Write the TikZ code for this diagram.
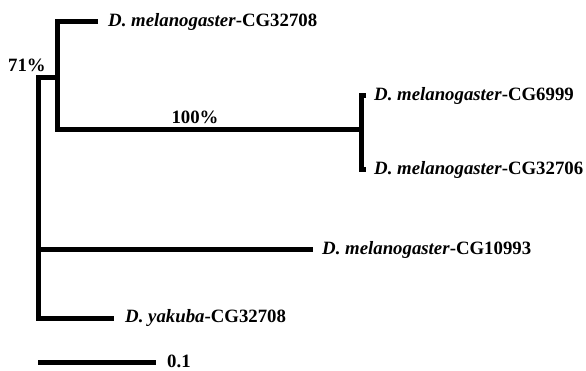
\documentclass[tikz,border=0pt]{standalone}
\usepackage{fontspec}
\setmainfont{Liberation Serif}
\begin{document}
\begin{tikzpicture}[x=1pt,y=-1pt,
  branch/.style={line width=5pt,line join=miter,line cap=butt,black},
  leaf/.style={anchor=west,inner xsep=0pt,inner ysep=0pt,font=\fontsize{18.8}{21}\selectfont\bfseries},
  support/.style={font=\fontsize{18.8}{21}\selectfont\bfseries,inner sep=0pt}]
\useasboundingbox (0,0) rectangle (586,371);
% internal nodes
\coordinate (root) at (38,250);
\coordinate (rtop) at (38,78);
\coordinate (rbot) at (38,318);
\coordinate (n1) at (57,78);
\coordinate (n1top) at (57,22);
\coordinate (n1bot) at (57,130);
\coordinate (n2) at (361,130);
\coordinate (n2top) at (361,96);
\coordinate (n2bot) at (361,170);
% leaf ends
\coordinate (l1) at (98,22);
\coordinate (l2) at (366,96);
\coordinate (l3) at (366,170);
\coordinate (l4) at (313,250);
\coordinate (l5) at (114,318);
\coordinate (s0) at (38,362);
\coordinate (s1) at (156,362);
% branches
\draw[branch] (n1) -- (rtop) -- (rbot) -- (l5);
\draw[branch] (root) -- (l4);
\draw[branch] (l1) -- (n1top) -- (n1bot) -- (n2);
\draw[branch] (l2) -- (n2top) -- (n2bot) -- (l3);
\draw[branch] (s0) -- (s1);
% labels
\node[leaf] (t1) at (108,22) {\textit{D. melanogaster}-CG32708};
\node[leaf] (t2) at (374,96) {\textit{D. melanogaster}-CG6999};
\node[leaf] (t3) at (374,170) {\textit{D. melanogaster}-CG32706};
\node[leaf] (t4) at (322,250) {\textit{D. melanogaster}-CG10993};
\node[leaf] (t5) at (125,318) {\textit{D. yakuba}-CG32708};
\node[leaf] (t6) at (167,361.5) {0.1};
\node[support] (b1) at (195,117) {100\%};
\node[support] (b2) at (27,65) {71\%};
\end{tikzpicture}
\end{document}
